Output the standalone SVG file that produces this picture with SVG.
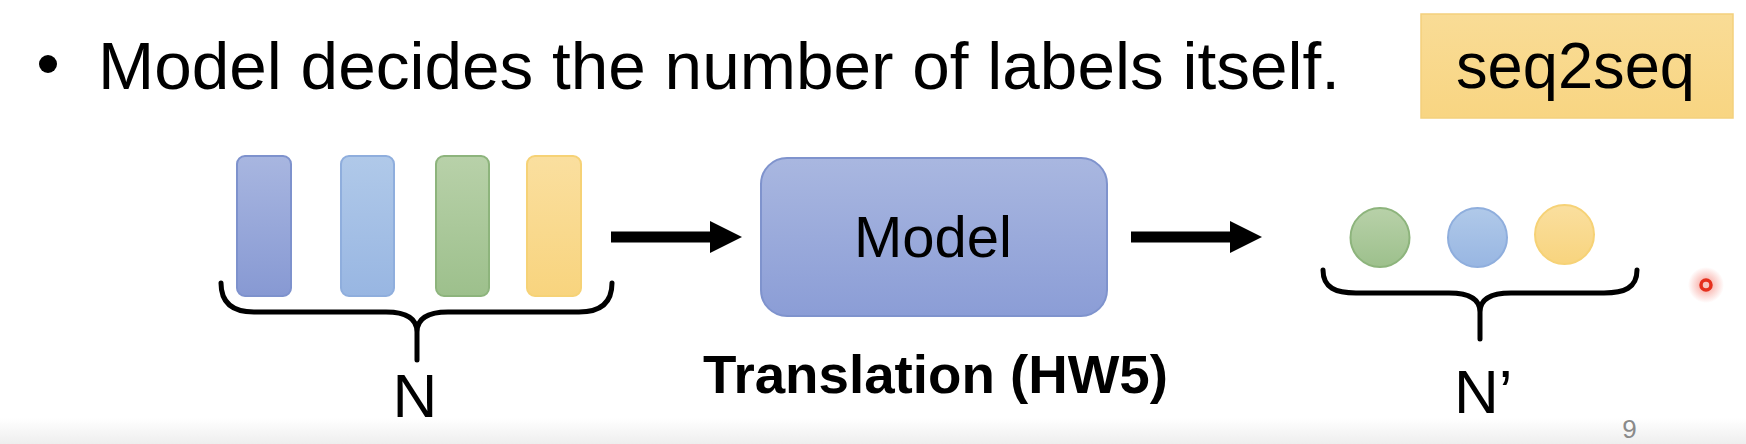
<svg xmlns="http://www.w3.org/2000/svg" width="1746" height="444" viewBox="0 0 1746 444">
<defs>
<style>
text{font-family:"Liberation Sans",Arial,sans-serif;fill:#000}
.node{stroke-width:2}
.brace{fill:none;stroke:#000;stroke-width:5;stroke-linecap:round;stroke-linejoin:round}
.shaft{stroke:#000;stroke-width:11;fill:none}
</style>
<linearGradient id="gBlue" x1="0" y1="0" x2="0" y2="1"><stop offset="0" stop-color="#A8B6E0"/><stop offset="1" stop-color="#8799D3"/></linearGradient>
<linearGradient id="gLight" x1="0" y1="0" x2="0" y2="1"><stop offset="0" stop-color="#B0C9E9"/><stop offset="1" stop-color="#98B6E2"/></linearGradient>
<linearGradient id="gGreen" x1="0" y1="0" x2="0" y2="1"><stop offset="0" stop-color="#B8D1A9"/><stop offset="1" stop-color="#9DC08C"/></linearGradient>
<linearGradient id="gYellow" x1="0" y1="0" x2="0" y2="1"><stop offset="0" stop-color="#FADF9F"/><stop offset="1" stop-color="#F8D47E"/></linearGradient>
<linearGradient id="gModel" x1="0" y1="0" x2="0" y2="1"><stop offset="0" stop-color="#A9B7E0"/><stop offset="1" stop-color="#8B9DD6"/></linearGradient>
<linearGradient id="gTag" x1="0" y1="0" x2="0" y2="1"><stop offset="0" stop-color="#F9DC96"/><stop offset="1" stop-color="#F8D582"/></linearGradient>
<linearGradient id="gFloor" x1="0" y1="0" x2="0" y2="1"><stop offset="0" stop-color="#ffffff"/><stop offset="1" stop-color="#eeeeee"/></linearGradient>
<radialGradient id="gLaser"><stop offset="0" stop-color="#f04a3a" stop-opacity="0.55"/><stop offset="1" stop-color="#f04a3a" stop-opacity="0"/></radialGradient>
<marker id="head" markerUnits="userSpaceOnUse" markerWidth="33" markerHeight="33" refX="0" refY="16" orient="auto" viewBox="0 0 33 33">
<path d="M0,0 L32,16 L0,32 Z" fill="#000"/>
</marker>
</defs>
<rect width="1746" height="444" fill="#fff"/>
<rect y="418" width="1746" height="26" fill="url(#gFloor)"/>

<g id="title">
<circle cx="48" cy="64" r="9" fill="#000"/>
<text x="98" y="89" font-size="66" textLength="1242" lengthAdjust="spacingAndGlyphs">Model decides the number of labels itself.</text>
</g>

<g id="seq2seq">
<rect x="1421" y="14" width="312" height="104" fill="url(#gTag)" stroke="#F3D07C" stroke-width="1.5"/>
<text x="1456" y="88" font-size="64" textLength="239" lengthAdjust="spacingAndGlyphs">seq2seq</text>
</g>

<g id="input">
<rect class="node" x="237" y="156" width="54" height="140" rx="8" fill="url(#gBlue)" stroke="#7E92CD"/>
<rect class="node" x="341" y="156" width="53" height="140" rx="8" fill="url(#gLight)" stroke="#8FAEDD"/>
<rect class="node" x="436" y="156" width="53" height="140" rx="8" fill="url(#gGreen)" stroke="#8DB47C"/>
<rect class="node" x="527" y="156" width="54" height="140" rx="8" fill="url(#gYellow)" stroke="#F6D276"/>
<path class="brace" d="M221,283 C221,304 234,312 254,312 L386,312 C406,312 417,318 417,332 L417,360 M417,332 C417,318 428,312 448,312 L579,312 C599,312 612,304 612,283"/>
<text x="415" y="417" font-size="62" text-anchor="middle">N</text>
</g>

<g id="model">
<rect class="node" x="761" y="158" width="346" height="158" rx="26" fill="url(#gModel)" stroke="#7F93CD"/>
<text x="933" y="257" font-size="58" text-anchor="middle">Model</text>
<text x="935.5" y="393" font-size="53" font-weight="bold" text-anchor="middle" textLength="465" lengthAdjust="spacingAndGlyphs">Translation (HW5)</text>
</g>

<g id="output">
<circle class="node" cx="1380" cy="237.5" r="29.5" fill="url(#gGreen)" stroke="#8DB47C"/>
<circle class="node" cx="1477.5" cy="237.5" r="29.5" fill="url(#gLight)" stroke="#8FAEDD"/>
<circle class="node" cx="1564.5" cy="234.5" r="29.5" fill="url(#gYellow)" stroke="#F6D276"/>
<path class="brace" d="M1323,270 C1323,288 1336,293 1356,293 L1449,293 C1469,293 1480,299 1480,312 L1480,339 M1480,312 C1480,299 1491,293 1511,293 L1604,293 C1624,293 1637,288 1637,270"/>
<text x="1454" y="413" font-size="62">N’</text>
</g>

<g id="connectors">
<line class="shaft" x1="611" y1="237" x2="710" y2="237" marker-end="url(#head)"/>
<line class="shaft" x1="1131" y1="237" x2="1230" y2="237" marker-end="url(#head)"/>
</g>

<g id="page">
<text x="1629.5" y="438" font-size="26" style="fill:#8a8a8a" text-anchor="middle">9</text>
</g>

<g id="pointer">
<circle cx="1706" cy="285" r="18" fill="url(#gLaser)"/>
<circle cx="1706" cy="285" r="5" fill="#f7c6bf" stroke="#e5301d" stroke-width="3.5"/>
</g>
</svg>
